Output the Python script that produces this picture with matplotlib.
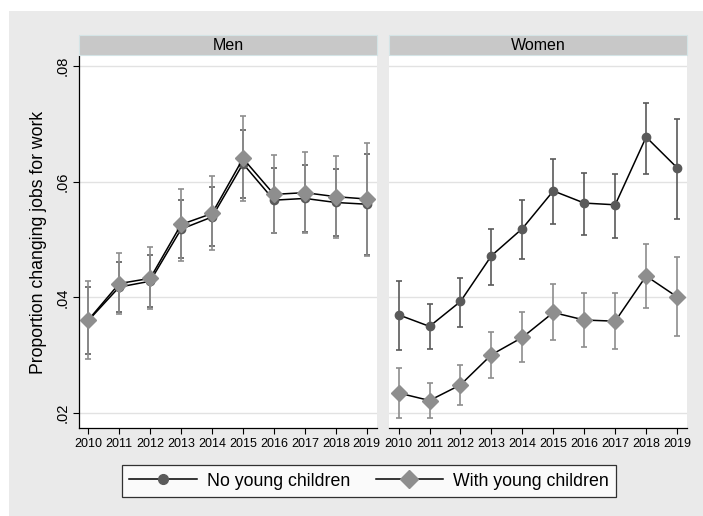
import matplotlib.pyplot as plt
from matplotlib.patches import Rectangle
from matplotlib.lines import Line2D

plt.rcParams['font.family'] = ['Liberation Sans', 'DejaVu Sans']

years = list(range(2010, 2020))

# Men
men_nokid = [0.0360, 0.0418, 0.0428, 0.0518, 0.0539, 0.0631, 0.0568, 0.0571, 0.0564, 0.0561]
men_nokid_lo = [0.0302, 0.0374, 0.0383, 0.0468, 0.0488, 0.0572, 0.0512, 0.0513, 0.0506, 0.0474]
men_nokid_hi = [0.0418, 0.0462, 0.0473, 0.0568, 0.0590, 0.0690, 0.0624, 0.0629, 0.0622, 0.0648]
men_kid = [0.0361, 0.0424, 0.0433, 0.0526, 0.0545, 0.0640, 0.0578, 0.0581, 0.0574, 0.0570]
men_kid_lo = [0.0293, 0.0372, 0.0380, 0.0463, 0.0482, 0.0567, 0.0511, 0.0511, 0.0503, 0.0472]
men_kid_hi = [0.0429, 0.0477, 0.0487, 0.0587, 0.0610, 0.0714, 0.0646, 0.0651, 0.0644, 0.0667]

# Women
wom_nokid = [0.0370, 0.0350, 0.0393, 0.0472, 0.0519, 0.0584, 0.0563, 0.0560, 0.0677, 0.0624]
wom_nokid_lo = [0.0309, 0.0311, 0.0349, 0.0422, 0.0467, 0.0526, 0.0508, 0.0503, 0.0613, 0.0535]
wom_nokid_hi = [0.0429, 0.0388, 0.0433, 0.0518, 0.0568, 0.0639, 0.0615, 0.0614, 0.0735, 0.0709]
wom_kid = [0.0235, 0.0222, 0.0249, 0.0301, 0.0331, 0.0374, 0.0361, 0.0359, 0.0437, 0.0401]
wom_kid_lo = [0.0191, 0.0191, 0.0215, 0.0261, 0.0289, 0.0326, 0.0315, 0.0311, 0.0381, 0.0334]
wom_kid_hi = [0.0278, 0.0253, 0.0284, 0.0341, 0.0375, 0.0424, 0.0408, 0.0407, 0.0492, 0.0469]

panels = [
    ('Men', men_nokid, men_nokid_lo, men_nokid_hi, men_kid, men_kid_lo, men_kid_hi),
    ('Women', wom_nokid, wom_nokid_lo, wom_nokid_hi, wom_kid, wom_kid_lo, wom_kid_hi),
]

bg = '#eaeaea'
dark = '#5a5a5a'
light = '#8e8e8e'

fig = plt.figure(figsize=(7.03, 5.16), dpi=100)
fig.patch.set_facecolor('white')
fig.patches.append(Rectangle((9 / 703, 0), 1, 1 - 11 / 516, transform=fig.transFigure,
                             facecolor=bg, edgecolor='none', zorder=-10))

W, H = 703, 516
lefts = [79, 389.3]
pw = 297.7
bottom, top = 428.3, 56

for i, (name, a, alo, ahi, b, blo, bhi) in enumerate(panels):
    ax = fig.add_axes([lefts[i] / W, 1 - bottom / H, pw / W, (bottom - top) / H])
    ax.set_facecolor('white')
    ax.set_xlim(2009.7, 2019.32)
    ax.set_ylim(0.0174, 0.0817)
    for g in [0.02, 0.04, 0.06, 0.08]:
        ax.axhline(g, color='#e2e2e2', lw=1.0, zorder=0)

    # strip
    fig.patches.append(Rectangle((lefts[i] / W, 1 - 55 / H), pw / W, 20 / H,
                                 transform=fig.transFigure, facecolor='#c8c8c8',
                                 edgecolor='#d4e4e6', lw=0.8))
    fig.text((lefts[i] + pw / 2) / W, 1 - 45 / H, name, ha='center', va='center', fontsize=11.5)

    ea = [[v - l for v, l in zip(a, alo)], [h - v for v, h in zip(a, ahi)]]
    eb = [[v - l for v, l in zip(b, blo)], [h - v for v, h in zip(b, bhi)]]
    ax.errorbar(years, a, yerr=ea, fmt='none', ecolor=dark, elinewidth=1.2, capsize=2.3, capthick=1.2, zorder=2)
    ax.errorbar(years, b, yerr=eb, fmt='none', ecolor=light, elinewidth=1.2, capsize=2.3, capthick=1.2, zorder=2)
    ax.plot(years, a, color='black', lw=1.1, marker='o', ms=6, mfc=dark, mec=dark, zorder=3)
    ax.plot(years, b, color='black', lw=1.1, marker='D', ms=8, mfc=light, mec=light, zorder=4)

    ax.set_xticks(years)
    ax.tick_params(axis='x', labelsize=9, length=4, width=0.8, pad=3)
    for s in ['top', 'right']:
        ax.spines[s].set_visible(False)
    ax.spines['bottom'].set_linewidth(0.9)
    if i == 0:
        ax.set_yticks([0.02, 0.04, 0.06, 0.08])
        ax.set_yticklabels(['.02', '.04', '.06', '.08'], rotation=90, va='center')
        ax.tick_params(axis='y', labelsize=10.5, length=4, width=0.8, pad=3)
        ax.spines['left'].set_linewidth(0.9)
        ax.set_ylabel('Proportion changing jobs for work', fontsize=12.7, labelpad=6)
    else:
        ax.set_yticks([])
        ax.spines['left'].set_visible(False)

handles = [
    Line2D([], [], color='black', lw=1.1, marker='o', ms=7, mfc=dark, mec=dark),
    Line2D([], [], color='black', lw=1.1, marker='D', ms=9, mfc=light, mec=light),
]
leg = fig.legend(handles, ['No young children', 'With young children'], loc='center',
                 bbox_to_anchor=(369 / W, 1 - 481 / H), ncol=2, fontsize=12.8,
                 frameon=True, fancybox=False, edgecolor='black', handlelength=3.8,
                 columnspacing=1.45, borderpad=0.4, handletextpad=0.55, borderaxespad=0)
leg.get_frame().set_linewidth(0.9)

fig.savefig('out.png', dpi=100, facecolor=fig.get_facecolor())
